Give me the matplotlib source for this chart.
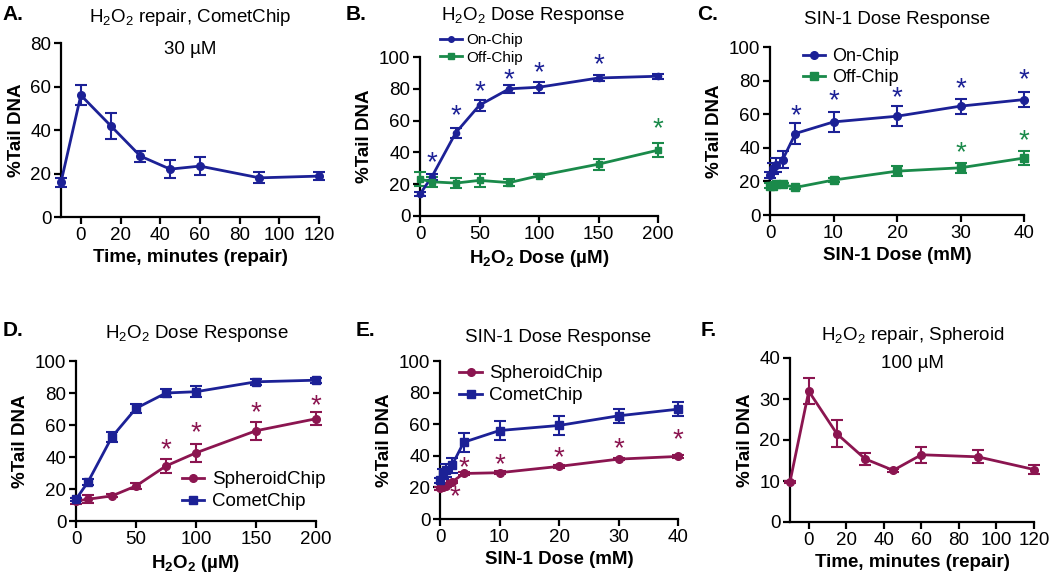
import matplotlib
matplotlib.use("Agg")
import matplotlib.pyplot as plt
from matplotlib.lines import Line2D

plt.rcParams['font.family'] = ['Liberation Sans', 'DejaVu Sans']
plt.rcParams['mathtext.fontset'] = 'custom'
plt.rcParams['mathtext.rm'] = 'Liberation Sans'
plt.rcParams['mathtext.it'] = 'Liberation Sans:italic'
plt.rcParams['mathtext.bf'] = 'Liberation Sans:bold'

BLUE = '#1c2196'
GREEN = '#1a8a4a'
MAROON = '#8b1550'

# Panel A: H2O2 repair, CometChip
a_time = [-10, 0, 15, 30, 45, 60, 90, 120]
a_val = [16, 56, 42, 28, 22, 23.4, 18, 18.8]
a_err = [2, 4.5, 6, 2.5, 4, 4, 2.5, 2]

# Panel B: H2O2 dose response
b_dose = [0, 10, 30, 50, 75, 100, 150, 200]
b_on = [13.8, 24.7, 52.3, 69.7, 80, 81, 86.8, 87.9]
b_on_err = [1, 2, 3, 3.5, 2.5, 3.5, 2, 1.5]
b_off = [23.2, 21.5, 20.7, 22.4, 21, 25.3, 32.6, 41.4]
b_off_err = [4.5, 3, 3, 4, 2, 1, 3.5, 4.5]
b_star_on_x = [10, 30, 50, 75, 100, 150, 200]
b_star_on_y = [37, 66.5, 81.6, 89.5, 93.7, 99, 101]
b_star_off_x = [200]
b_star_off_y = [58.6]

# Panel C: SIN-1 dose response
c_dose = [0, 0.5, 1, 2, 4, 10, 20, 30, 40]
c_on = [23.8, 27.7, 29.7, 33, 48.5, 55.4, 58.8, 64.8, 68.7]
c_on_err = [1.5, 3, 4, 5, 6, 6, 6, 4.5, 4.5]
c_off = [17.4, 17.4, 18.6, 18.2, 16.4, 20.8, 26.1, 28.1, 33.9]
c_off_err = [1.5, 1.5, 1, 1, 1, 1, 3, 3, 4]
c_star_on_x = [4, 10, 20, 30, 40]
c_star_on_y = [62.8, 71.3, 73.3, 78.6, 84.2]
c_star_off_x = [30, 40]
c_star_off_y = [40.6, 47.5]

# Panel D: H2O2 SpheroidChip vs CometChip
d_dose = [0, 10, 30, 50, 75, 100, 150, 200]
d_sph = [12.5, 13.6, 15.7, 21.9, 34.4, 42.6, 56.4, 63.9]
d_sph_err = [2, 2.5, 1, 2, 4.5, 5.5, 5.5, 4]
d_com = [13.6, 24.4, 52.6, 70.4, 80, 80.8, 87, 88]
d_com_err = [1, 2, 3, 3, 2.5, 3.5, 2, 1.5]
d_star_x = [75, 100, 150, 200]
d_star_y = [48.4, 58.5, 71.4, 75.6]

# Panel E: SIN-1 SpheroidChip vs CometChip
e_dose = [0, 0.5, 1, 2, 4, 10, 20, 30, 40]
e_sph = [19.4, 20.2, 21, 23.4, 28.8, 29.3, 33.3, 37.9, 39.6]
e_sph_err = [0.8, 0.8, 0.8, 0.8, 0.8, 0.8, 0.8, 0.8, 0.8]
e_com = [24.4, 28.6, 30.7, 33.9, 48.6, 56, 59.2, 65.3, 69.5]
e_com_err = [1.5, 3, 4, 5, 6, 6, 6, 4.5, 4.5]
e_star_x = [2.5, 4, 10, 20, 30, 40]
e_star_y = [17.5, 36.4, 38.1, 42.3, 48, 53.9]

# Panel F: H2O2 repair, Spheroid
f_time = [-10, 0, 15, 30, 45, 60, 90, 120]
f_val = [9.8, 31.9, 21.5, 15.4, 12.6, 16.4, 15.9, 12.8]
f_err = [0.3, 3.2, 3.3, 1.5, 0.3, 2, 1.6, 1]

W, H = 1050, 579
fig = plt.figure(figsize=(W / 100, H / 100), dpi=100)


def make_ax(left, top, right, bottom):
    return fig.add_axes([left / W, 1 - bottom / H, (right - left) / W, (bottom - top) / H])


def style(ax, xlim, ylim, xticks, yticks, xlabel):
    ax.set_xlim(*xlim)
    ax.set_ylim(*ylim)
    ax.set_xticks(xticks)
    ax.set_yticks(yticks)
    for s in ['top', 'right']:
        ax.spines[s].set_visible(False)
    for s in ['left', 'bottom']:
        ax.spines[s].set_linewidth(1.6)
    ax.tick_params(width=1.6, length=5, labelsize=13.5, direction='out', pad=2)
    ax.set_ylabel('%Tail DNA', fontsize=13.5, fontweight='bold', labelpad=4)
    ax.set_xlabel(xlabel, fontsize=13.5, fontweight='bold', labelpad=4)
    ax.patch.set_alpha(0)


def series(ax, x, y, e, color, marker, ms=5.5):
    ax.errorbar(x, y, yerr=e, color=color, marker=marker, ms=ms, lw=2,
                elinewidth=1.5, capsize=4, capthick=1.5, clip_on=False, zorder=3)


def handle(color, marker, label, ms=5.5):
    return Line2D([], [], color=color, marker=marker, ms=ms, lw=2, label=label)


def stars(ax, x, y, color):
    for xi, yi in zip(x, y):
        ax.annotate('*', (xi, yi), xytext=(0, -4.5), textcoords='offset points',
                    color=color, fontsize=20, ha='center', va='center')


def plabel(x, y, s):
    fig.text(x / W, 1 - y / H, s, fontsize=15, fontweight='bold', ha='left', va='center')


def ftext(x, y, s, size=13.5):
    fig.text(x / W, 1 - y / H, s, fontsize=size, ha='center', va='center')


leg_kw = dict(frameon=False, borderaxespad=0, labelspacing=0.25)

# A
axA = make_ax(61, 43, 319, 217)
series(axA, a_time, a_val, a_err, BLUE, 'o')
style(axA, (-10, 120), (0, 80), range(0, 121, 20), range(0, 81, 20), 'Time, minutes (repair)')
plabel(2, 14, 'A.')
ftext(190, 18, r'$\mathrm{H_2O_2}$ repair, CometChip')
ftext(190, 50, '30 µM')

# B
axB = make_ax(420, 57, 658, 216)
series(axB, b_dose, b_on, b_on_err, BLUE, 'o', ms=4.5)
series(axB, b_dose, b_off, b_off_err, GREEN, 's', ms=4.5)
stars(axB, b_star_on_x, b_star_on_y, BLUE)
stars(axB, b_star_off_x, b_star_off_y, GREEN)
style(axB, (0, 200), (0, 100), range(0, 201, 50), range(0, 101, 20), r'$\mathbf{H_2O_2}$ Dose (µM)')
axB.legend(handles=[handle(BLUE, 'o', 'On-Chip', 4), handle(GREEN, 's', 'Off-Chip', 4)],
           loc='upper left', bbox_to_anchor=(0.06, 1.19), fontsize=11, handlelength=1.4,
           handletextpad=0.3, **leg_kw)
plabel(346, 14, 'B.')
ftext(533, 16, r'$\mathrm{H_2O_2}$ Dose Response')

# C
axC = make_ax(770, 47, 1024, 215)
series(axC, c_dose, c_on, c_on_err, BLUE, 'o')
series(axC, c_dose, c_off, c_off_err, GREEN, 's')
stars(axC, c_star_on_x, c_star_on_y, BLUE)
stars(axC, c_star_off_x, c_star_off_y, GREEN)
style(axC, (0, 40), (0, 100), range(0, 41, 10), range(0, 101, 20), 'SIN-1 Dose (mM)')
axC.legend(handles=[handle(BLUE, 'o', 'On-Chip'), handle(GREEN, 's', 'Off-Chip')],
           loc='upper left', bbox_to_anchor=(0.1, 1.035), fontsize=13, handlelength=1.25,
           handletextpad=0.4, labelspacing=0.2, frameon=False, borderaxespad=0)
plabel(697, 14, 'C.')
ftext(897, 20, 'SIN-1 Dose Response')

# D
axD = make_ax(76, 361, 316, 521)
series(axD, d_dose, d_sph, d_sph_err, MAROON, 'o')
series(axD, d_dose, d_com, d_com_err, BLUE, 's')
stars(axD, d_star_x, d_star_y, MAROON)
style(axD, (0, 200), (0, 100), range(0, 201, 50), range(0, 101, 20), r'$\mathbf{H_2O_2}$ (µM)')
axD.legend(handles=[handle(MAROON, 'o', 'SpheroidChip'), handle(BLUE, 's', 'CometChip')],
           loc='lower right', bbox_to_anchor=(1.07, 0.02), fontsize=13.5, handlelength=1.2,
           handletextpad=0.4, **leg_kw)
plabel(3, 330, 'D.')
ftext(197, 334, r'$\mathrm{H_2O_2}$ Dose Response')

# E
axE = make_ax(440, 361, 678, 519)
series(axE, e_dose, e_sph, e_sph_err, MAROON, 'o')
series(axE, e_dose, e_com, e_com_err, BLUE, 's')
stars(axE, e_star_x, e_star_y, MAROON)
style(axE, (0, 40), (0, 100), range(0, 41, 10), range(0, 101, 20), 'SIN-1 Dose (mM)')
axE.legend(handles=[handle(MAROON, 'o', 'SpheroidChip'), handle(BLUE, 's', 'CometChip')],
           loc='upper left', bbox_to_anchor=(0.05, 1.02), fontsize=13.5, handlelength=1.2,
           handletextpad=0.4, **leg_kw)
plabel(356, 331, 'E.')
ftext(558, 337, 'SIN-1 Dose Response')

# F
axF = make_ax(790, 358, 1034, 522)
series(axF, f_time, f_val, f_err, MAROON, 'o')
style(axF, (-10, 120), (0, 40), range(0, 121, 20), range(0, 41, 10), 'Time, minutes (repair)')
plabel(701, 331, 'F.')
ftext(913, 335, r'$\mathrm{H_2O_2}$ repair, Spheroid')
ftext(912, 364, '100 µM')

fig.savefig('out.png', dpi=100)
